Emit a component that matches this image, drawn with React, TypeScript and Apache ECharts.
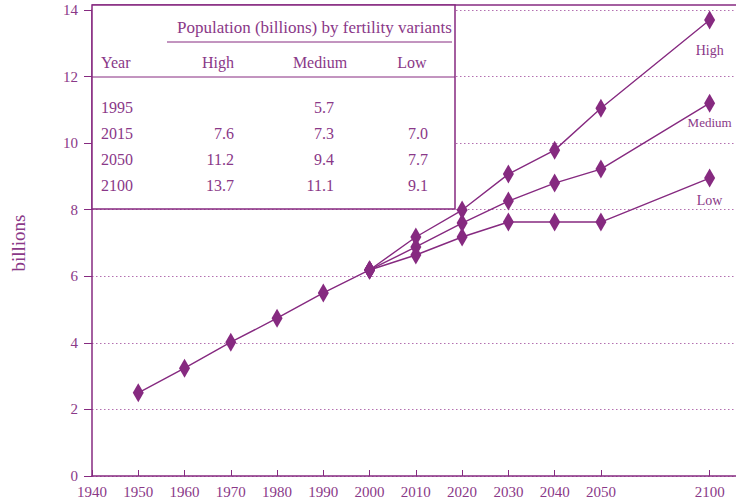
import React, { useEffect, useRef } from "react";
import * as echarts from "echarts";

// ---- chart data ----
const historyYears = [1950, 1960, 1970, 1980, 1990, 2000];
const historyValues = [2.5, 3.24, 4.02, 4.74, 5.5, 6.19];

const projYears = [2000, 2010, 2020, 2030, 2040, 2050, 2100];
const highValues = [6.19, 7.18, 7.99, 9.07, 9.79, 11.05, 13.7];
const mediumValues = [6.19, 6.88, 7.6, 8.26, 8.8, 9.22, 11.2];
const lowValues = [6.19, 6.64, 7.18, 7.63, 7.63, 7.63, 8.95];
const seriesNames = ["High", "Medium", "Low"];

const xTickYears = [1940, 1950, 1960, 1970, 1980, 1990, 2000, 2010, 2020, 2030, 2040, 2050, 2100];

// ---- table data ----
const tableTitle = "Population (billions) by fertility variants";
const tableHeaders = ["Year", "High", "Medium", "Low"];
const tableYears = ["1995", "2015", "2050", "2100"];
const tableHigh = ["", "7.6", "11.2", "13.7"];
const tableMedium = ["5.7", "7.3", "9.4", "11.1"];
const tableLow = ["", "7.0", "7.7", "9.1"];

// the axis is compressed after 2050
const COMPRESS = 0.47;
const axisPos = (year: number) => (year <= 2050 ? year : 2050 + (year - 2050) * COMPRESS);
const axisYear = (pos: number) => (pos <= 2050 ? pos : Math.round(2050 + (pos - 2050) / COMPRESS));

const PURPLE = "#862a80";
const TEXT = "#8a3888";
const FONT = "Liberation Serif";

export default function App() {
  const ref = useRef<HTMLDivElement>(null);
  useEffect(() => {
    if (!ref.current) return;
    const chart = echarts.init(ref.current, undefined, { renderer: "svg" });

    const labelDist = [14, 3, 6];
    const mkSeries = (name: string, years: number[], vals: number[], idx: number) => ({
      name,
      type: "line",
      data: years.map((y, i) => {
        const item: any = { value: [axisPos(y), vals[i]] };
        if (idx >= 0 && i === years.length - 1) {
          item.label = {
            show: true,
            formatter: name,
            position: "bottom",
            distance: labelDist[idx],
            color: TEXT,
            fontFamily: FONT,
            fontSize: name === "Medium" ? 13 : 14,
          };
        }
        return item;
      }),
      symbol: "diamond",
      symbolSize: [11, 19],
      showAllSymbol: true,
      itemStyle: { color: PURPLE },
      lineStyle: { color: PURPLE, width: 1.4 },
      z: 5,
    });

    const rowY = [107, 133, 159, 185];
    const rowFont = `16px "${FONT}"`;
    const tableTexts: any[] = [];
    tableYears.forEach((_, r) => {
      tableTexts.push({
        type: "text", x: 101, y: rowY[r],
        style: { text: tableYears[r], fill: TEXT, font: rowFont, textAlign: "left", textVerticalAlign: "middle" },
      });
      const rx = [234, 334, 428];
      [tableHigh, tableMedium, tableLow].forEach((col, c) => {
        tableTexts.push({
          type: "text", x: rx[c], y: rowY[r],
          style: { text: col[r], fill: TEXT, font: rowFont, textAlign: "right", textVerticalAlign: "middle" },
        });
      });
    });
    const headerX = [101, 218, 320, 412];
    tableHeaders.forEach((h, i) => {
      tableTexts.push({
        type: "text", x: headerX[i], y: 62,
        style: { text: h, fill: TEXT, font: rowFont, textAlign: i === 0 ? "left" : "center", textVerticalAlign: "middle" },
      });
    });

    chart.setOption({
      animation: false,
      backgroundColor: "#ffffff",
      grid: { left: 92, right: 0, top: 10, bottom: 28, containLabel: false },
      xAxis: {
        type: "value",
        min: 1940,
        max: 2079.2,
        axisLine: { show: true, lineStyle: { color: PURPLE, width: 1.5 } },
        axisTick: { show: true, inside: true, length: 6, customValues: xTickYears.map(axisPos), lineStyle: { color: PURPLE } },
        axisLabel: {
          customValues: xTickYears.map(axisPos),
          formatter: (v: number) => String(axisYear(v)),
          color: TEXT, fontFamily: FONT, fontSize: 15, margin: 8,
        },
        splitLine: { show: false },
      },
      yAxis: {
        type: "value",
        min: 0,
        max: 14,
        interval: 2,
        axisLine: { show: true, lineStyle: { color: PURPLE, width: 1.5 } },
        axisTick: { show: true, inside: false, length: 8, lineStyle: { color: PURPLE } },
        axisLabel: { color: TEXT, fontFamily: FONT, fontSize: 15, margin: 14 },
        splitLine: { show: true, lineStyle: { color: "#b36fb0", width: 1, type: [1.5, 2.5] } },
        name: "billions",
        nameLocation: "middle",
        nameGap: 64,
        nameTextStyle: { color: TEXT, fontFamily: FONT, fontSize: 19 },
      },
      series: [
        mkSeries("History", historyYears, historyValues, -1),
        mkSeries(seriesNames[0], projYears, highValues, 0),
        mkSeries(seriesNames[1], projYears, mediumValues, 1),
        mkSeries(seriesNames[2], projYears, lowValues, 2),
      ],
      graphic: [
        { type: "line", shape: { x1: 92, y1: 5, x2: 736, y2: 5 }, style: { stroke: PURPLE, lineWidth: 1.5 }, z: 10 },
        { type: "rect", shape: { x: 92, y: 5, width: 363, height: 204 }, style: { fill: "#ffffff", stroke: PURPLE, lineWidth: 1.5 }, z: 10 },
        { type: "line", shape: { x1: 167, y1: 42, x2: 452, y2: 42 }, style: { stroke: PURPLE, lineWidth: 1 }, z: 11 },
        { type: "line", shape: { x1: 92, y1: 77, x2: 455, y2: 77 }, style: { stroke: PURPLE, lineWidth: 1 }, z: 11 },
        {
          type: "text", x: 177, y: 27, z: 11,
          style: { text: tableTitle, fill: TEXT, font: `17px "${FONT}"`, textAlign: "left", textVerticalAlign: "middle" },
        },
        ...tableTexts.map((t) => ({ ...t, z: 11 })),
      ],
    });
    return () => chart.dispose();
  }, []);
  return (
    <div
      ref={ref}
      style={{ position: "fixed", left: 0, top: 0, width: 736, height: 504, background: "#fff" }}
    />
  );
}
